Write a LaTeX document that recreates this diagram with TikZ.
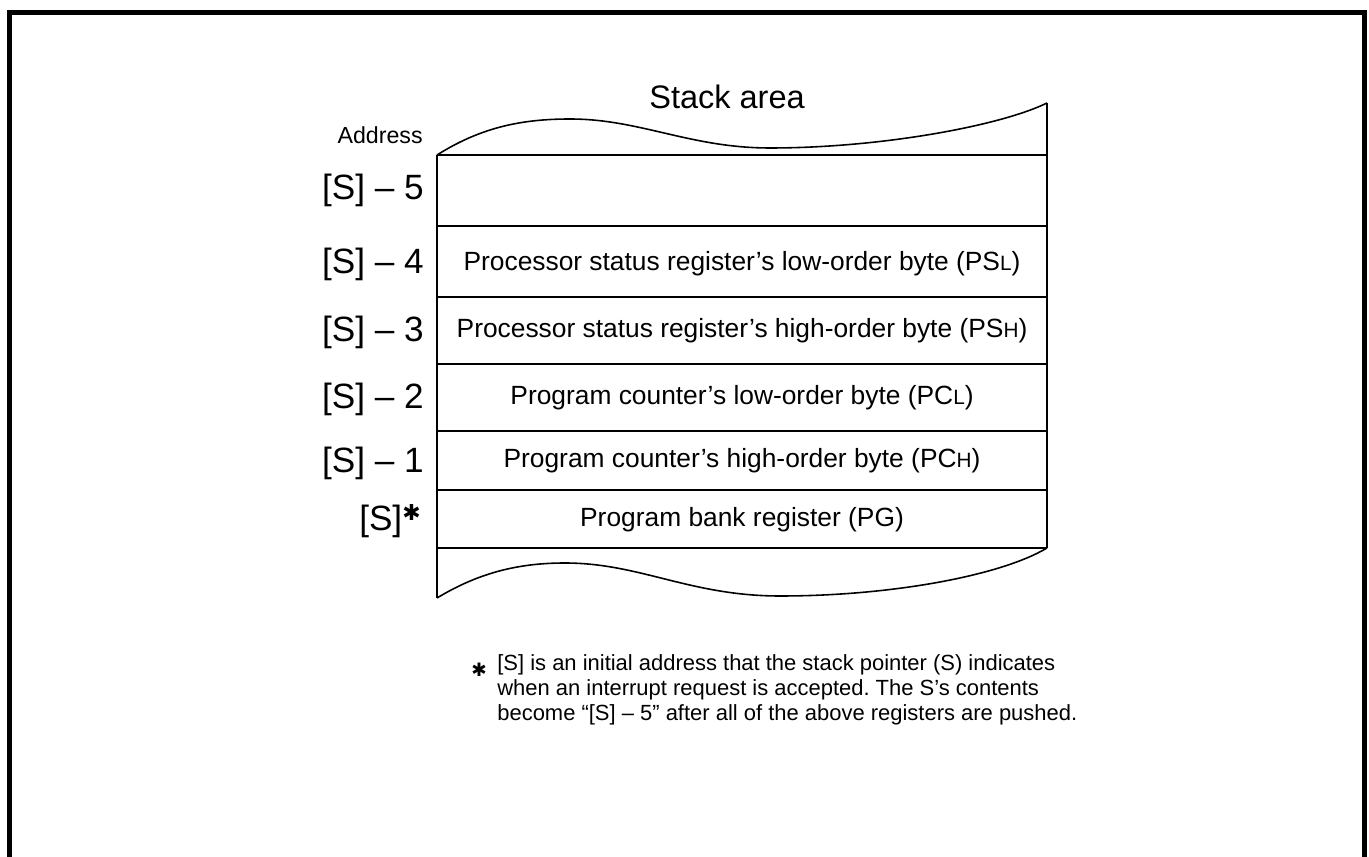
\documentclass[tikz,border=0pt]{standalone}
\usepackage{fontspec}
\setmainfont{Liberation Sans}
\newfontfamily\symfont{DejaVu Sans}
\newcommand{\regsub}[1]{{\fontsize{11.8}{12}\selectfont #1}}
\newcommand{\heavystar}[1]{{\symfont\fontsize{#1}{#1}\selectfont ✱}}
\frenchspacing

\begin{document}
\begin{tikzpicture}[x=0.02cm, y=-0.02cm,
        addr/.style={anchor=east, inner sep=0pt, font=\fontsize{20}{22}\selectfont},
        cell/.style={inner sep=0pt, font=\fontsize{15}{17}\selectfont},
        rowline/.style={line width=0.9pt},
        edge/.style={line width=1.4pt},
        wave/.style={line width=0.9pt}]
    \useasboundingbox (0,0) rectangle (1369,857);
    % frame, open at the bottom
    \draw[line width=2.8pt] (9.5,857) -- (9.5,12.5) -- (1364.5,12.5) -- (1364.5,857);

    % stack area
    \node[inner sep=0pt, anchor=base, font=\fontsize{18.5}{20}\selectfont] (title) at (727,109) {Stack area};
    \coordinate (tl) at (437,155);
    \coordinate (tr) at (1047,103);
    \coordinate (bl) at (437,598);
    \coordinate (br) at (1047,548);
    \draw[wave] (tl) .. controls (480,128) and (520,119) .. (570,119)
        .. controls (640,119) and (690,148) .. (770,148)
        .. controls (880,148) and (1000,126) .. (tr);
    \draw[wave] (bl) .. controls (480,572) and (520,563) .. (565,563)
        .. controls (640,563) and (690,596) .. (780,596)
        .. controls (890,596) and (1000,576) .. (br);
    \draw[edge] (tl) -- (bl);
    \draw[edge] (tr) -- (br);
    \draw[rowline] (437,155) -- (1047,155);
    \draw[rowline] (437,226) -- (1047,226);
    \draw[rowline] (437,297) -- (1047,297);
    \draw[rowline] (437,364) -- (1047,364);
    \draw[rowline] (437,431) -- (1047,431);
    \draw[rowline] (437,490) -- (1047,490);
    \draw[rowline] (437,548) -- (1047,548);

    % addresses
    \node[addr, font=\fontsize{13.2}{15}\selectfont] (address) at (423,135) {Address};
    \node[addr] (s5) at (424,190) {[S] – 5};
    \node[addr] (s4) at (424,264) {[S] – 4};
    \node[addr] (s3) at (424,332) {[S] – 3};
    \node[addr] (s2) at (424,399) {[S] – 2};
    \node[addr] (s1) at (424,463) {[S] – 1};
    \node[addr] (s0) at (421,521) {[S]\raisebox{6pt}{\heavystar{12.5}}};

    % contents
    \node[cell] (psl) at (742,264) {Processor status register’s low-order byte (PS\regsub{L})};
    \node[cell] (psh) at (742,331) {Processor status register’s high-order byte (PS\regsub{H})};
    \node[cell] (pcl) at (742,398) {Program counter’s low-order byte (PC\regsub{L})};
    \node[cell] (pch) at (742,461) {Program counter’s high-order byte (PC\regsub{H})};
    \node[cell] (pg) at (742,520) {Program bank register (PG)};

    % note
    \node[inner sep=0pt] (star) at (479,670) {\heavystar{10.5}};
    \node[inner sep=0pt, anchor=west, align=left, font=\fontsize{12.5}{14.2}\selectfont] (note) at (497,690)
        {[S] is an initial address that the stack pointer (S) indicates\\
         when an interrupt request is accepted. The S’s contents\\
         become “[S] – 5” after all of the above registers are pushed.};
\end{tikzpicture}
\end{document}
